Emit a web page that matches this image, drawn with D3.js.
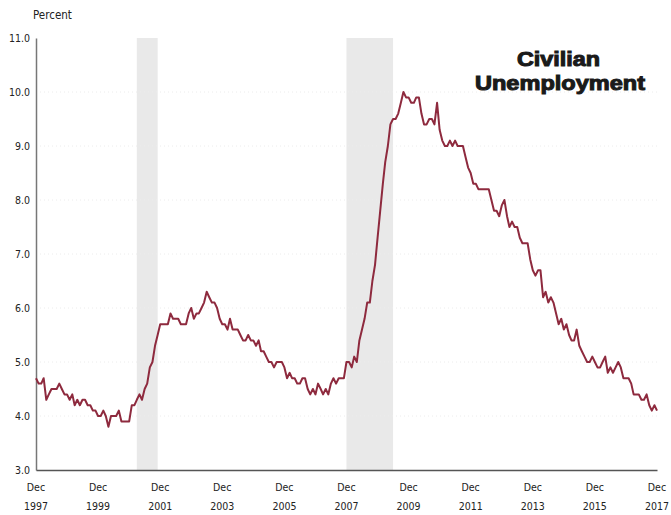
<!DOCTYPE html>
<html><head><meta charset="utf-8">
<script src="https://cdn.jsdelivr.net/npm/d3@7"></script>
<style>body{margin:0;background:#fff}svg{display:block}</style>
</head><body>
<script>
const startYear = 1997, startMonth = 11; // Dec 1997
const rates = [
4.7,
4.6,4.6,4.7,4.3,4.4,4.5,4.5,4.5,4.6,4.5,4.4,4.4,
4.3,4.4,4.2,4.3,4.2,4.3,4.3,4.2,4.2,4.1,4.1,4.0,
4.0,4.1,4.0,3.8,4.0,4.0,4.0,4.1,3.9,3.9,3.9,3.9,
4.2,4.2,4.3,4.4,4.3,4.5,4.6,4.9,5.0,5.3,5.5,5.7,
5.7,5.7,5.7,5.9,5.8,5.8,5.8,5.7,5.7,5.7,5.9,6.0,
5.8,5.9,5.9,6.0,6.1,6.3,6.2,6.1,6.1,6.0,5.8,5.7,
5.7,5.6,5.8,5.6,5.6,5.6,5.5,5.4,5.4,5.5,5.4,5.4,
5.3,5.4,5.2,5.2,5.1,5.0,5.0,4.9,5.0,5.0,5.0,4.9,
4.7,4.8,4.7,4.7,4.6,4.6,4.7,4.7,4.5,4.4,4.5,4.4,
4.6,4.5,4.4,4.5,4.4,4.6,4.7,4.6,4.7,4.7,4.7,5.0,
5.0,4.9,5.1,5.0,5.4,5.6,5.8,6.1,6.1,6.5,6.8,7.3,
7.8,8.3,8.7,9.0,9.4,9.5,9.5,9.6,9.8,10.0,9.9,9.9,
9.8,9.8,9.9,9.9,9.6,9.4,9.4,9.5,9.5,9.4,9.8,9.3,
9.1,9.0,9.0,9.1,9.0,9.1,9.0,9.0,9.0,8.8,8.6,8.5,
8.3,8.3,8.2,8.2,8.2,8.2,8.2,8.0,7.8,7.8,7.7,7.9,
8.0,7.7,7.5,7.6,7.5,7.5,7.3,7.2,7.2,7.2,6.9,6.7,
6.6,6.7,6.7,6.2,6.3,6.1,6.2,6.1,5.9,5.7,5.8,5.6,
5.7,5.5,5.4,5.4,5.6,5.3,5.2,5.1,5.0,5.0,5.1,5.0,
4.9,4.9,5.0,5.1,4.8,4.9,4.8,4.9,5.0,4.9,4.7,4.7,
4.7,4.6,4.4,4.4,4.4,4.3,4.3,4.4,4.2,4.1,4.2,4.1
];
const recessionStarts = ["2001-03","2007-12"];
const recessionEnds = ["2001-11","2009-06"];
const yTicks = [3,4,5,6,7,8,9,10,11];
const xTickYears = [1997,1999,2001,2003,2005,2007,2009,2011,2013,2015,2017];
const titleLines = ["Civilian","Unemployment"];

const W = 671, H = 515;
const svg = d3.select("body").append("svg").attr("width", W).attr("height", H);
const data = rates.map((v,i)=>({date:new Date(startYear, startMonth + i, 1), v}));
const x = d3.scaleTime().domain([new Date(1997,11,1), new Date(2017,11,1)]).range([36, 657]);
const y = d3.scaleLinear().domain([3,11]).range([470, 38]);
const parse = d3.timeParse("%Y-%m");
const lblFont = "'DejaVu Sans Condensed', 'Liberation Sans Narrow', sans-serif";

// recession shading
svg.append("g").selectAll("rect").data(recessionStarts.map((s,i)=>[parse(s),parse(recessionEnds[i])]))
  .join("rect")
  .attr("x", d=>x(d[0])).attr("width", d=>x(d[1])-x(d[0]))
  .attr("y", y(11)).attr("height", y(3)-y(11))
  .attr("fill", "#e9e9e9");

// faint dotted grid
svg.append("g").selectAll("line").data(yTicks.slice(1,-1)).join("line")
  .attr("x1", 40).attr("x2", 660).attr("y1", d=>y(d)).attr("y2", d=>y(d))
  .attr("stroke", "#ececec").attr("stroke-width", 1).attr("stroke-dasharray", "1,3");

// y axis
const yAxis = d3.axisLeft(y).tickValues(yTicks).tickFormat(d3.format(".1f")).tickSize(0).tickPadding(6);
const gy = svg.append("g").attr("transform", "translate(36,0)").call(yAxis);
gy.select(".domain").attr("stroke", "#777").attr("stroke-width", 1.5);
gy.selectAll("text").attr("font-family", lblFont).attr("font-size", 10.5).attr("fill", "#222");

// x axis
const xAxis = d3.axisBottom(x).tickValues(xTickYears.map(yr=>new Date(yr,11,1))).tickSize(0).tickFormat("");
const gx = svg.append("g").attr("transform", "translate(0,470)").call(xAxis);
gx.select(".domain").attr("stroke", "#555").attr("stroke-width", 1.5);
const lbl = svg.append("g").attr("font-family", lblFont)
  .attr("font-size", 10.5).attr("fill", "#222").attr("text-anchor", "middle");
lbl.selectAll("text.m").data(xTickYears).join("text").attr("class","m")
  .attr("x", d=>x(new Date(d,11,1))).attr("y", 491).text("Dec");
lbl.selectAll("text.yr").data(xTickYears).join("text").attr("class","yr")
  .attr("x", d=>x(new Date(d,11,1))).attr("y", 510).text(d=>d);

// line
svg.append("path").datum(data)
  .attr("fill", "none").attr("stroke", "#8e2a3e").attr("stroke-width", 2).attr("stroke-linejoin", "round")
  .attr("d", d3.line().x(d=>x(d.date)).y(d=>y(d.v)));

// labels
svg.append("text").attr("x", 33).attr("y", 19).text("Percent")
  .attr("font-family", lblFont).attr("font-size", 11.5).attr("fill", "#222");
const titleLen = [83, 170];
svg.append("g").attr("font-family", "'Liberation Sans', Arial, sans-serif").attr("font-weight", "bold")
  .attr("font-size", 19.5).attr("fill", "#1a1a1a").attr("stroke", "#1a1a1a").attr("stroke-width", 1)
  .attr("text-anchor", "middle")
  .selectAll("text").data(titleLines).join("text")
  .attr("x", (d,i)=>[558.5,560][i]).attr("y", (d,i)=>[66,90][i])
  .attr("textLength", (d,i)=>titleLen[i]).attr("lengthAdjust", "spacingAndGlyphs")
  .text(d=>d);
</script>
</body></html>
